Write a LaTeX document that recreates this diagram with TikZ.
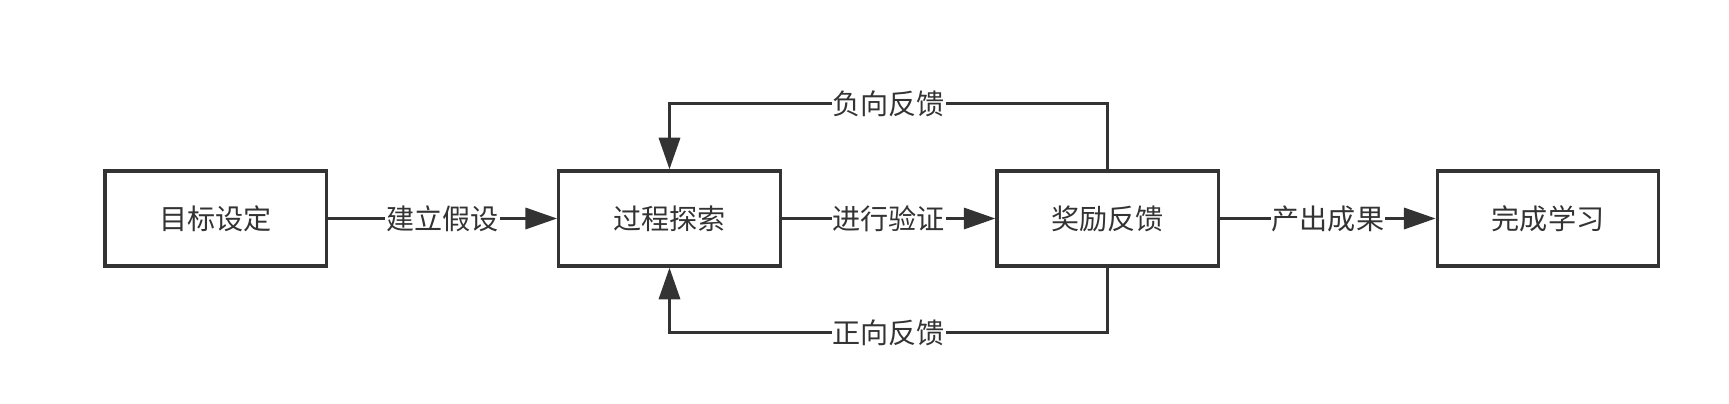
\documentclass[tikz,border=0pt]{standalone}
\usepackage{fontspec}
\setmainfont{Noto Sans CJK SC}
\usetikzlibrary{arrows.meta, positioning}
\definecolor{Ink}{HTML}{333333}
\tikzset{
  stage/.style={
    rectangle, draw=Ink, fill=white, text=Ink,
    line width=1.9pt, minimum width=4.43cm, minimum height=1.9cm,
    font=\fontsize{16}{18}\selectfont,
  },
  arr/.style={
    -{Triangle[length=18pt,width=12pt]},
    line width=1.8pt, color=Ink,
  },
  lbl/.style={
    font=\fontsize{16}{18}\selectfont, text=Ink,
    fill=white, inner sep=0.5pt,
  },
}
\begin{document}
\begin{tikzpicture}[x=0.02cm,y=0.02cm]
    \useasboundingbox (0,0) rectangle (1729,403);

    \node[stage] (goal)    at (215.6,184.5)  {目标设定};
    \node[stage] (explore) at (669.5,184.5)  {过程探索};
    \node[stage] (reward)  at (1107.8,184.5) {奖励反馈};
    \node[stage] (done)    at (1548,184.5)   {完成学习};

    \draw[arr] (goal)    -- node[lbl] {建立假设} (explore);
    \draw[arr] (explore) -- node[lbl] {进行验证} (reward);
    \draw[arr] (reward)  -- node[lbl] {产出成果} (done);

    % feedback loops
    \draw[arr] (reward.north) -- ++(0,66) -| node[lbl,pos=0.25] {负向反馈} (explore.north);
    \draw[arr] (reward.south) -- ++(0,-65) -| node[lbl,pos=0.25] {正向反馈} (explore.south);

\end{tikzpicture}
\end{document}
